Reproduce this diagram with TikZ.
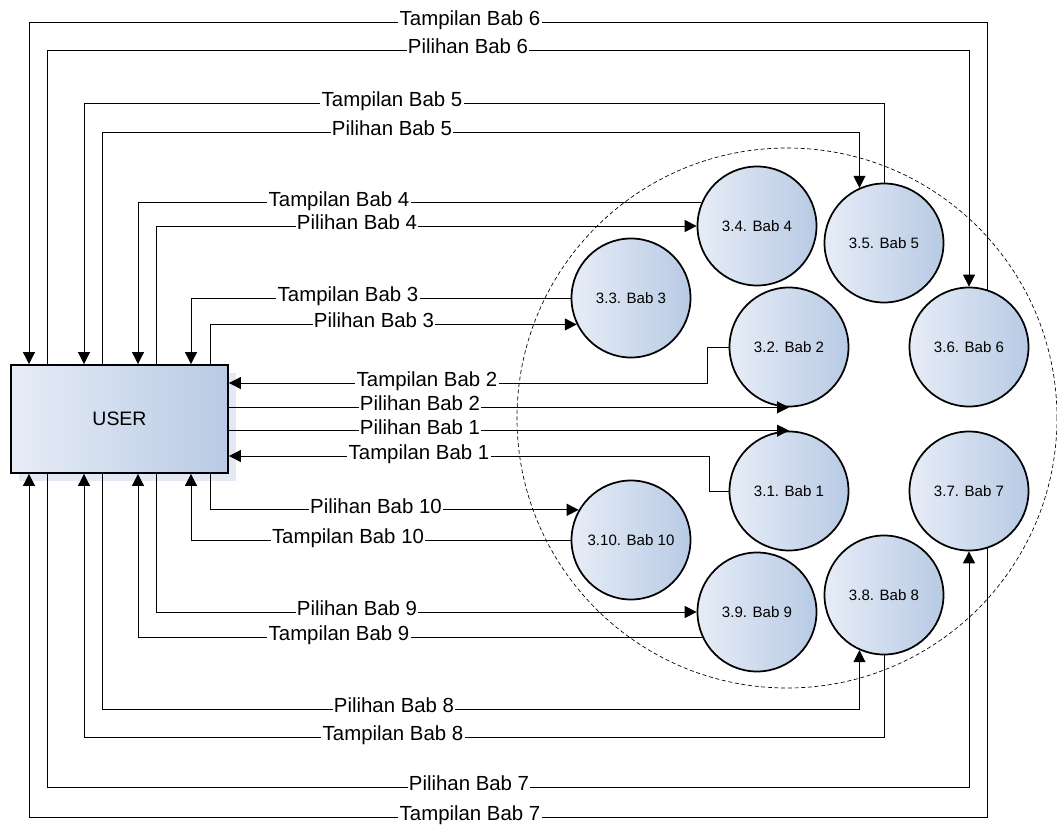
\documentclass[tikz,border=0pt]{standalone}
\usepackage{fontspec}
\setmainfont{Liberation Sans}
\usetikzlibrary{arrows.meta,calc}
\definecolor{gl}{RGB}{231,237,247}
\definecolor{gr}{RGB}{184,202,228}
\definecolor{shadowc}{RGB}{226,233,245}
\begin{document}
\begin{tikzpicture}[x=0.75pt,y=-0.75pt,
 proc/.style={circle, draw=black, line width=1.3pt, minimum size=89.25pt, inner sep=0pt, left color=gl, right color=gr, font=\fontsize{11.3}{13}\selectfont},
 ent/.style={rectangle, draw=black, line width=1.4pt, minimum width=162.75pt, minimum height=81pt, left color=gl, right color=gr, font=\fontsize{14.6}{17}\selectfont},
 flow/.style={draw=black, line width=0.75pt},
 arr/.style={flow, -{Triangle[length=9pt,width=9pt]}},
 lbl/.style={fill=white, inner sep=1pt, font=\fontsize{15.3}{18}\selectfont, text height=0.72em, text depth=0.2em},
 bound/.style={circle, draw=black, dash pattern=on 3pt off 2pt, line width=0.5pt, minimum size=405pt, inner sep=0pt}
]
\useasboundingbox (0,0) rectangle (1057,825);
% system boundary
\node[bound] (sys) at (787,418) {};
% user
\fill[shadowc] (19,373) rectangle (236,481);
\node[ent] (user) at (119.5,419) {USER};
% processes
\node[proc] (b1) at (789,491) {3.1. Bab 1};
\node[proc] (b2) at (789,347) {3.2. Bab 2};
\node[proc] (b3) at (631,298) {3.3. Bab 3};
\node[proc] (b4) at (757,226) {3.4. Bab 4};
\node[proc] (b5) at (884,243) {3.5. Bab 5};
\node[proc] (b6) at (969,347) {3.6. Bab 6};
\node[proc] (b7) at (969,491) {3.7. Bab 7};
\node[proc] (b8) at (884,595) {3.8. Bab 8};
\node[proc] (b9) at (757,612) {3.9. Bab 9};
\node[proc] (b10) at (631,540) {3.10. Bab 10};
% connectors, top
\draw[arr] (b6.72) |- (29,22) -- (29,0 |- user.north);
\draw[arr] (47,0 |- user.north) |- (b6.north |- 0,50) -- (b6.north);
\draw[arr] (b5.north) |- (84,103) -- (84,0 |- user.north);
\draw[arr] (102,0 |- user.north) |- (b5.114 |- 0,132) -- (b5.114);
\draw[arr] (b4.157) -| (138,0 |- user.north);
\draw[arr] (156,0 |- user.north) |- (b4.west);
\draw[arr] (b3.west) -| (191,0 |- user.north);
\draw[arr] (210,0 |- user.north) |- (b3.206);
% right side
\draw[arr] (b2.west) -| (707,383) -- (user.east |- 0,383);
\draw[arr] (user.east |- b2.south) -- (b2.south);
\draw[arr] (user.east |- b1.north) -- (b1.north);
\draw[arr] (b1.west) -| (709,456) -- (user.east |- 0,456);
% bottom
\draw[arr] (210,0 |- user.south) |- (b10.150);
\draw[arr] (b10.west) -| (191,0 |- user.south);
\draw[arr] (156,0 |- user.south) |- (b9.west);
\draw[arr] (b9.205) -| (138,0 |- user.south);
\draw[arr] (102,0 |- user.south) |- (b8.246 |- 0,709) -- (b8.246);
\draw[arr] (b8.south) |- (84,737) -- (84,0 |- user.south);
\draw[arr] (47,0 |- user.south) |- (b7.south |- 0,787) -- (b7.south);
\draw[arr] (b7.288) |- (29,817) -- (29,0 |- user.south);
% labels
\node[lbl] (lt6) at (470,22) {Tampilan Bab 6};
\node[lbl] (lp6) at (468,50) {Pilihan Bab 6};
\node[lbl] (lt5) at (392,103) {Tampilan Bab 5};
\node[lbl] (lp5) at (392,132) {Pilihan Bab 5};
\node[lbl] (lt4) at (339,203) {Tampilan Bab 4};
\node[lbl] (lp4) at (357,226) {Pilihan Bab 4};
\node[lbl] (lt3) at (348,298) {Tampilan Bab 3};
\node[lbl] (lp3) at (374,324) {Pilihan Bab 3};
\node[lbl] (lt2) at (427,383) {Tampilan Bab 2};
\node[lbl] (lp2) at (420,407) {Pilihan Bab 2};
\node[lbl] (lp1) at (420,431.5) {Pilihan Bab 1};
\node[lbl] (lt1) at (419,456) {Tampilan Bab 1};
\node[lbl] (lp10) at (376,510) {Pilihan Bab 10};
\node[lbl] (lt10) at (348,540) {Tampilan Bab 10};
\node[lbl] (lp9) at (357,612) {Pilihan Bab 9};
\node[lbl] (lt9) at (339,637) {Tampilan Bab 9};
\node[lbl] (lp8) at (394,709) {Pilihan Bab 8};
\node[lbl] (lt8) at (393,737) {Tampilan Bab 8};
\node[lbl] (lp7) at (469,787) {Pilihan Bab 7};
\node[lbl] (lt7) at (470,817) {Tampilan Bab 7};
\end{tikzpicture}
\end{document}
